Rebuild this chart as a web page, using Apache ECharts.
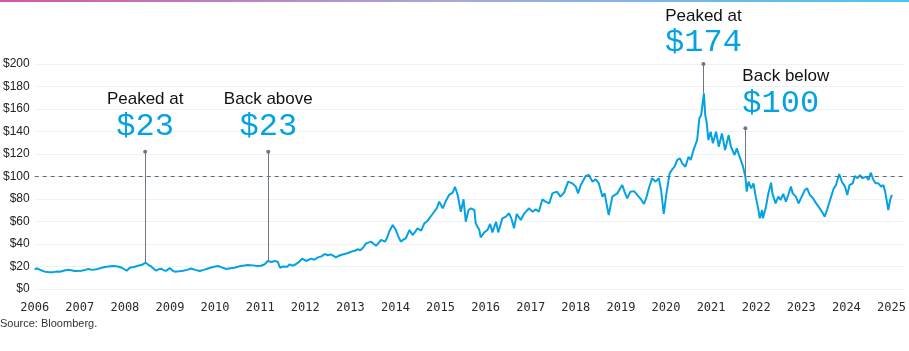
<!DOCTYPE html>
<html>
<head>
<meta charset="utf-8">
<script src="https://cdn.jsdelivr.net/npm/echarts@6/dist/echarts.min.js"></script>
<style>
  html, body { margin: 0; padding: 0; background: #fff; }
  #chart { width: 909px; height: 351px; }
</style>
</head>
<body>
<div id="chart"></div>
<script>
// share price (x = decimal year, y = USD)
const years = [
  2006.00, 2006.05, 2006.15, 2006.23, 2006.32, 2006.41, 2006.50, 2006.56, 2006.66, 2006.75,
  2006.89, 2007.04, 2007.12, 2007.19, 2007.28, 2007.37, 2007.48, 2007.59, 2007.74, 2007.85,
  2007.93, 2008.04, 2008.11, 2008.20, 2008.29, 2008.38, 2008.46, 2008.52, 2008.59, 2008.65,
  2008.70, 2008.76, 2008.81, 2008.87, 2008.92, 2009.00, 2009.05, 2009.10, 2009.20, 2009.29,
  2009.38, 2009.47, 2009.56, 2009.66, 2009.75, 2009.84, 2009.95, 2010.07, 2010.16, 2010.25,
  2010.34, 2010.43, 2010.52, 2010.62, 2010.72, 2010.84, 2010.93, 2011.02, 2011.10, 2011.17,
  2011.25, 2011.32, 2011.39, 2011.44, 2011.50, 2011.54, 2011.60, 2011.65, 2011.73, 2011.79,
  2011.84, 2011.93, 2012.02, 2012.13, 2012.20, 2012.28, 2012.36, 2012.43, 2012.50, 2012.57,
  2012.68, 2012.77, 2012.87, 2012.95, 2013.02, 2013.10, 2013.16, 2013.22, 2013.28, 2013.35,
  2013.46, 2013.52, 2013.57, 2013.63, 2013.68, 2013.77, 2013.82, 2013.86, 2013.94, 2014.01,
  2014.07, 2014.12, 2014.18, 2014.23, 2014.31, 2014.38, 2014.44, 2014.49, 2014.57, 2014.64,
  2014.70, 2014.75, 2014.81, 2014.86, 2014.92, 2014.97, 2015.05, 2015.12, 2015.19, 2015.27,
  2015.32, 2015.38, 2015.45, 2015.51, 2015.56, 2015.62, 2015.67, 2015.75, 2015.78, 2015.82,
  2015.86, 2015.89, 2015.97, 2016.04, 2016.10, 2016.15, 2016.23, 2016.28, 2016.37, 2016.45,
  2016.52, 2016.57, 2016.63, 2016.69, 2016.78, 2016.85, 2016.96, 2017.04, 2017.11, 2017.18,
  2017.26, 2017.33, 2017.41, 2017.48, 2017.58, 2017.66, 2017.74, 2017.83, 2017.92, 2018.00,
  2018.05, 2018.11, 2018.22, 2018.29, 2018.37, 2018.44, 2018.51, 2018.59, 2018.64, 2018.68,
  2018.73, 2018.81, 2018.92, 2019.03, 2019.08, 2019.14, 2019.21, 2019.29, 2019.36, 2019.44,
  2019.51, 2019.56, 2019.62, 2019.69, 2019.77, 2019.84, 2019.89, 2019.95, 2020.01, 2020.08,
  2020.13, 2020.19, 2020.25, 2020.31, 2020.36, 2020.43, 2020.50, 2020.55, 2020.61, 2020.69,
  2020.74, 2020.78, 2020.84, 2020.87, 2020.90, 2020.94, 2020.99, 2021.04, 2021.11, 2021.17,
  2021.24, 2021.31, 2021.39, 2021.44, 2021.52, 2021.57, 2021.63, 2021.70, 2021.76, 2021.79,
  2021.83, 2021.89, 2021.94, 2021.99, 2022.05, 2022.08, 2022.13, 2022.15, 2022.21, 2022.27,
  2022.33, 2022.36, 2022.43, 2022.49, 2022.54, 2022.60, 2022.66, 2022.71, 2022.77, 2022.81,
  2022.88, 2022.94, 2023.01, 2023.08, 2023.13, 2023.19, 2023.26, 2023.33, 2023.41, 2023.48,
  2023.52, 2023.57, 2023.65, 2023.72, 2023.77, 2023.84, 2023.90, 2023.97, 2024.02, 2024.07,
  2024.14, 2024.19, 2024.25, 2024.30, 2024.35, 2024.44, 2024.49, 2024.54, 2024.60, 2024.65,
  2024.71, 2024.77, 2024.82, 2024.86, 2024.89, 2024.93, 2024.97, 2025.01
];
const prices = [
  17.5, 18.2, 16.5, 15.4, 15.0, 15.0, 15.6, 15.4, 16.5, 17.2,
  16.0, 16.3, 17.0, 17.8, 17.0, 17.5, 18.8, 19.8, 20.4, 20.0,
  18.9, 16.3, 18.9, 19.5, 20.7, 21.5, 23.4, 21.5, 19.8, 17.5,
  16.3, 17.8, 18.0, 16.5, 16.3, 18.6, 16.5, 15.4, 15.8, 16.3,
  17.0, 18.2, 17.0, 16.0, 17.0, 18.2, 19.5, 20.4, 19.0, 17.8,
  18.5, 18.9, 20.0, 20.7, 21.3, 21.0, 20.5, 20.7, 22.0, 24.9,
  24.0, 24.9, 24.3, 18.9, 20.0, 20.7, 19.8, 21.9, 20.7, 22.0,
  23.4, 26.9, 24.9, 27.0, 26.0, 28.1, 29.0, 31.1, 30.0, 30.8,
  28.1, 30.0, 31.1, 32.0, 33.2, 34.0, 35.3, 34.5, 36.7, 40.6,
  42.1, 40.0, 38.5, 41.0, 43.6, 42.1, 46.0, 50.9, 56.9, 52.4,
  46.0, 42.1, 44.0, 45.1, 52.4, 48.0, 51.0, 53.9, 51.9, 58.4,
  60.0, 62.8, 66.0, 68.7, 72.0, 77.6, 71.7, 78.5, 83.6, 85.6,
  90.9, 83.6, 68.7, 79.7, 59.8, 70.0, 71.7, 70.2, 58.4, 55.3,
  52.4, 45.9, 50.3, 52.4, 57.8, 50.3, 59.8, 50.3, 62.8, 64.3,
  67.3, 62.8, 53.9, 66.7, 61.3, 66.7, 71.7, 68.7, 70.8, 68.7,
  79.7, 77.6, 76.1, 85.0, 86.5, 82.1, 85.6, 95.4, 93.9, 91.0,
  85.0, 92.4, 100.4, 101.3, 95.4, 97.5, 93.9, 82.1, 85.0, 76.1,
  65.8, 82.1, 85.0, 92.4, 86.5, 80.6, 86.5, 87.0, 83.6, 80.0,
  75.6, 80.6, 89.5, 98.4, 95.4, 98.4, 88.0, 66.7, 85.0, 102.8,
  105.8, 108.7, 114.7, 116.1, 111.7, 108.7, 117.6, 114.7, 123.6, 132.4,
  151.7, 154.6, 173.9, 154.6, 148.7, 132.4, 139.8, 129.5, 139.8, 126.5,
  138.3, 123.6, 136.8, 126.5, 119.1, 125.0, 117.6, 110.0, 100.0, 86.5,
  95.4, 89.5, 93.9, 82.1, 70.2, 62.8, 70.2, 62.8, 71.7, 85.0,
  94.5, 85.0, 76.1, 82.1, 79.1, 84.5, 77.6, 83.6, 91.0, 85.0,
  82.1, 76.1, 82.1, 88.0, 89.5, 83.6, 80.6, 76.1, 71.7, 67.3,
  64.3, 70.2, 80.6, 89.5, 92.4, 102.2, 95.4, 91.0, 83.6, 92.4,
  93.9, 100.4, 98.4, 101.3, 98.4, 99.9, 96.9, 103.4, 96.9, 93.9,
  93.9, 91.0, 92.4, 86.5, 88.0, 70.2, 79.1, 83.6
];

const yTicks = [0, 20, 40, 60, 80, 100, 120, 140, 160, 180, 200];
const threshold = 100;

// callouts: where the pin sits, where it starts and ends, and its two lines of text
const noteYears = [2008.45, 2011.18, 2020.83, 2021.76];
const noteTops = [122, 122, 200, 143];
const noteBottoms = [23.4, 24.9, 174, 100];
const noteCaptions = ['Peaked at', 'Back above', 'Peaked at', 'Back below'];
const noteValues = ['$23', '$23', '$174', '$100'];

const CYAN = '#05a2e3';
const PIN = '#6e7686';

const chart = echarts.init(document.getElementById('chart'));

const pins = noteYears.map((x, i) => [
  { coord: [x, noteTops[i]], symbol: 'circle', symbolSize: 4 },
  { coord: [x, noteBottoms[i]], symbol: 'none' }
]);

const texts = [];
noteYears.forEach((x, i) => {
  const leftAligned = i === 3;
  texts.push({
    coord: [x, noteTops[i]],
    label: {
      formatter: noteCaptions[i],
      align: leftAligned ? 'left' : 'center',
      offset: [leftAligned ? -3 : 0, i === 2 ? -48 : -52],
      fontFamily: 'Liberation Sans',
      fontSize: 17,
      color: '#111'
    }
  });
  texts.push({
    coord: [x, noteTops[i]],
    label: {
      formatter: noteValues[i],
      align: leftAligned ? 'left' : 'center',
      offset: [leftAligned ? -3 : 0, i === 2 ? -21 : -25],
      fontFamily: 'Liberation Mono',
      fontSize: 32,
      color: CYAN
    }
  });
});

chart.setOption({
  animation: false,
  grid: { left: 33, right: 4, top: 64, bottom: 62 },
  xAxis: {
    type: 'value',
    min: 2006,
    max: 2025.3,
    interval: 1,
    axisLine: { show: false },
    axisTick: { show: false },
    splitLine: { show: false },
    axisLabel: {
      margin: 13,
      fontFamily: 'DejaVu Sans Mono',
      fontSize: 12,
      color: '#2a2a2a',
      formatter: v => (Math.abs(v - Math.round(v)) < 1e-6 ? String(Math.round(v)) : '')
    }
  },
  yAxis: {
    type: 'value',
    min: yTicks[0],
    max: yTicks[yTicks.length - 1],
    interval: yTicks[1] - yTicks[0],
    axisLine: { show: false },
    axisTick: { show: false },
    splitLine: { lineStyle: { color: '#edf2f5', width: 1 } },
    axisLabel: {
      margin: 5,
      fontFamily: 'Liberation Sans',
      fontSize: 12,
      color: '#222',
      formatter: '${value}'
    }
  },
  graphic: [
    {
      type: 'rect',
      left: 0, top: 0,
      shape: { width: 909, height: 2 },
      style: {
        fill: new echarts.graphic.LinearGradient(0, 0, 1, 0, [
          { offset: 0, color: '#d455a6' },
          { offset: 0.5, color: '#a7a9de' },
          { offset: 1, color: '#48c6ee' }
        ])
      },
      silent: true
    },
    {
      type: 'text',
      left: 0, top: 318,
      style: { text: 'Source: Bloomberg.', font: '11px "Liberation Sans"', fill: '#333' },
      silent: true
    }
  ],
  series: [
    {
      type: 'line',
      data: years.map((x, i) => [x, prices[i]]),
      showSymbol: false,
      lineStyle: { color: CYAN, width: 2 },
      silent: true,
      z: 3,
      markLine: {
        silent: true,
        symbol: 'none',
        label: { show: false },
        lineStyle: { color: PIN, width: 1, type: 'solid' },
        emphasis: { disabled: true },
        data: [
          { yAxis: threshold, lineStyle: { color: '#5d6a80', type: [4, 4], width: 1 } },
          ...pins
        ]
      },
      markPoint: {
        silent: true,
        symbol: 'circle',
        symbolSize: 1,
        itemStyle: { color: 'rgba(0,0,0,0)' },
        label: { show: true, position: 'inside', verticalAlign: 'middle' },
        data: texts
      }
    }
  ]
});
window.addEventListener('resize', () => chart.resize());
</script>
</body>
</html>
